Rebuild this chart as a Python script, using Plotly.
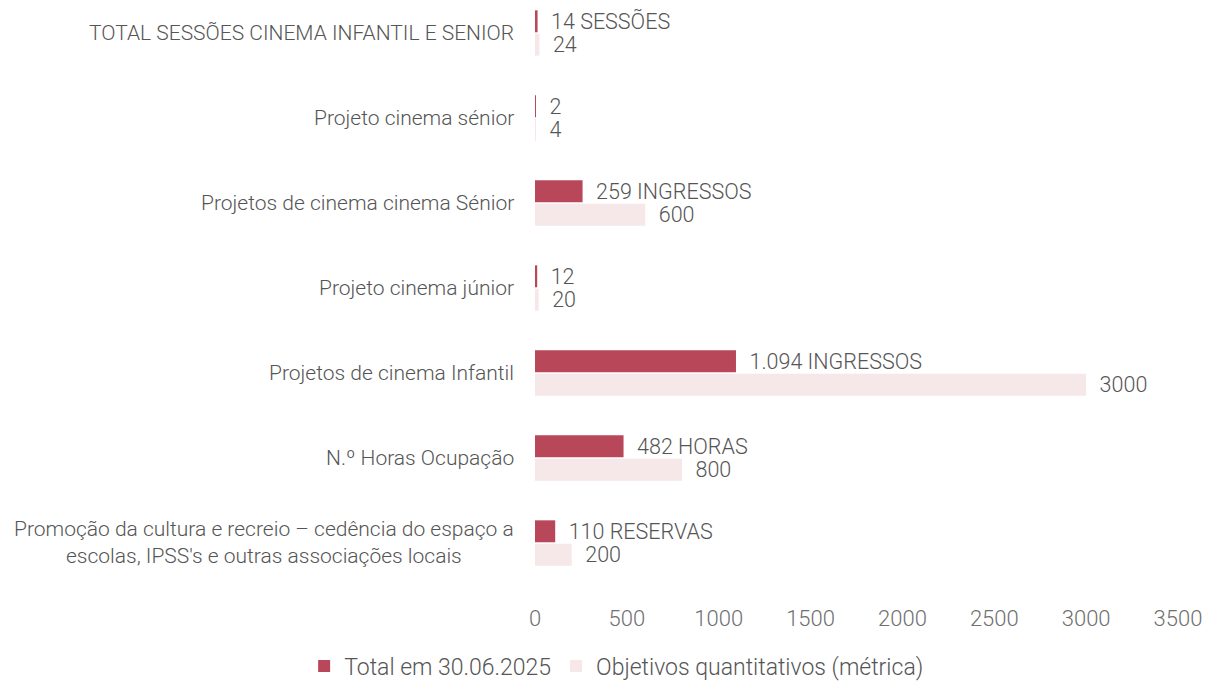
import plotly.graph_objects as go

categorias = [
    "TOTAL SESSÕES CINEMA INFANTIL E SENIOR",
    "Projeto cinema sénior",
    "Projetos de cinema cinema Sénior",
    "Projeto cinema júnior",
    "Projetos de cinema Infantil",
    "N.º Horas Ocupação",
    "Promoção da cultura e recreio – cedência do espaço a<br>escolas, IPSS's e outras associações locais",
]
total_30_06 = [14, 2, 259, 12, 1094, 482, 110]
total_rotulos = ["14 SESSÕES", "2", "259 INGRESSOS", "12", "1.094 INGRESSOS", "482 HORAS", "110 RESERVAS"]
objetivos = [24, 4, 600, 20, 3000, 800, 200]
objetivos_rotulos = ["24", "4", "600", "20", "3000", "800", "200"]

VERMELHO = "#b9475a"
ROSA = "#f6e7e9"
TEXTO = "#555555"
PAD = "\u00a0" * 2

fig = go.Figure()
fig.add_trace(go.Bar(
    y=list(range(len(categorias))), x=total_30_06, orientation="h",
    name="Total em 30.06.2025", marker_color=VERMELHO, marker_line_width=0,
    text=[PAD + t for t in total_rotulos], textposition="outside",
    constraintext="none", textfont=dict(size=21.5, color=TEXTO), cliponaxis=False,
))
fig.add_trace(go.Bar(
    y=list(range(len(categorias))), x=objetivos, orientation="h",
    name="Objetivos quantitativos (métrica)", marker_color=ROSA, marker_line_width=0,
    text=[PAD + t for t in objetivos_rotulos], textposition="outside",
    constraintext="none", textfont=dict(size=21.5, color=TEXTO), cliponaxis=False,
))

# category labels as annotations so the two-line label stays centred
for i, cat in enumerate(categorias):
    fig.add_annotation(
        x=0, xref="paper", xanchor="right", xshift=-19,
        y=i, yref="y", text=cat, showarrow=False, align="center",
        font=dict(size=21, color=TEXTO),
    )

fig.update_layout(
    width=1210, height=684,
    paper_bgcolor="white", plot_bgcolor="white",
    font=dict(family="Roboto", weight=300, color=TEXTO),
    margin=dict(l=527, r=40, t=0, b=106),
    barmode="group", bargap=0.45, bargroupgap=0.06,
    showlegend=True,
    legend=dict(
        orientation="h", xref="container", x=0.503, xanchor="center",
        yref="container", y=0.038, yanchor="middle",
        font=dict(size=23, color=TEXTO), itemwidth=30,
    ),
)
fig.update_xaxes(
    range=[0, 3500], dtick=500, showgrid=False, zeroline=False,
    showline=False, ticks="", ticklabelstandoff=17,
    tickfont=dict(size=22, color="#707070"),
)
fig.update_yaxes(
    range=[6.506, -0.294], showticklabels=False, showgrid=False,
    zeroline=False, showline=False, ticks="",
)

fig.write_html("out.html")
